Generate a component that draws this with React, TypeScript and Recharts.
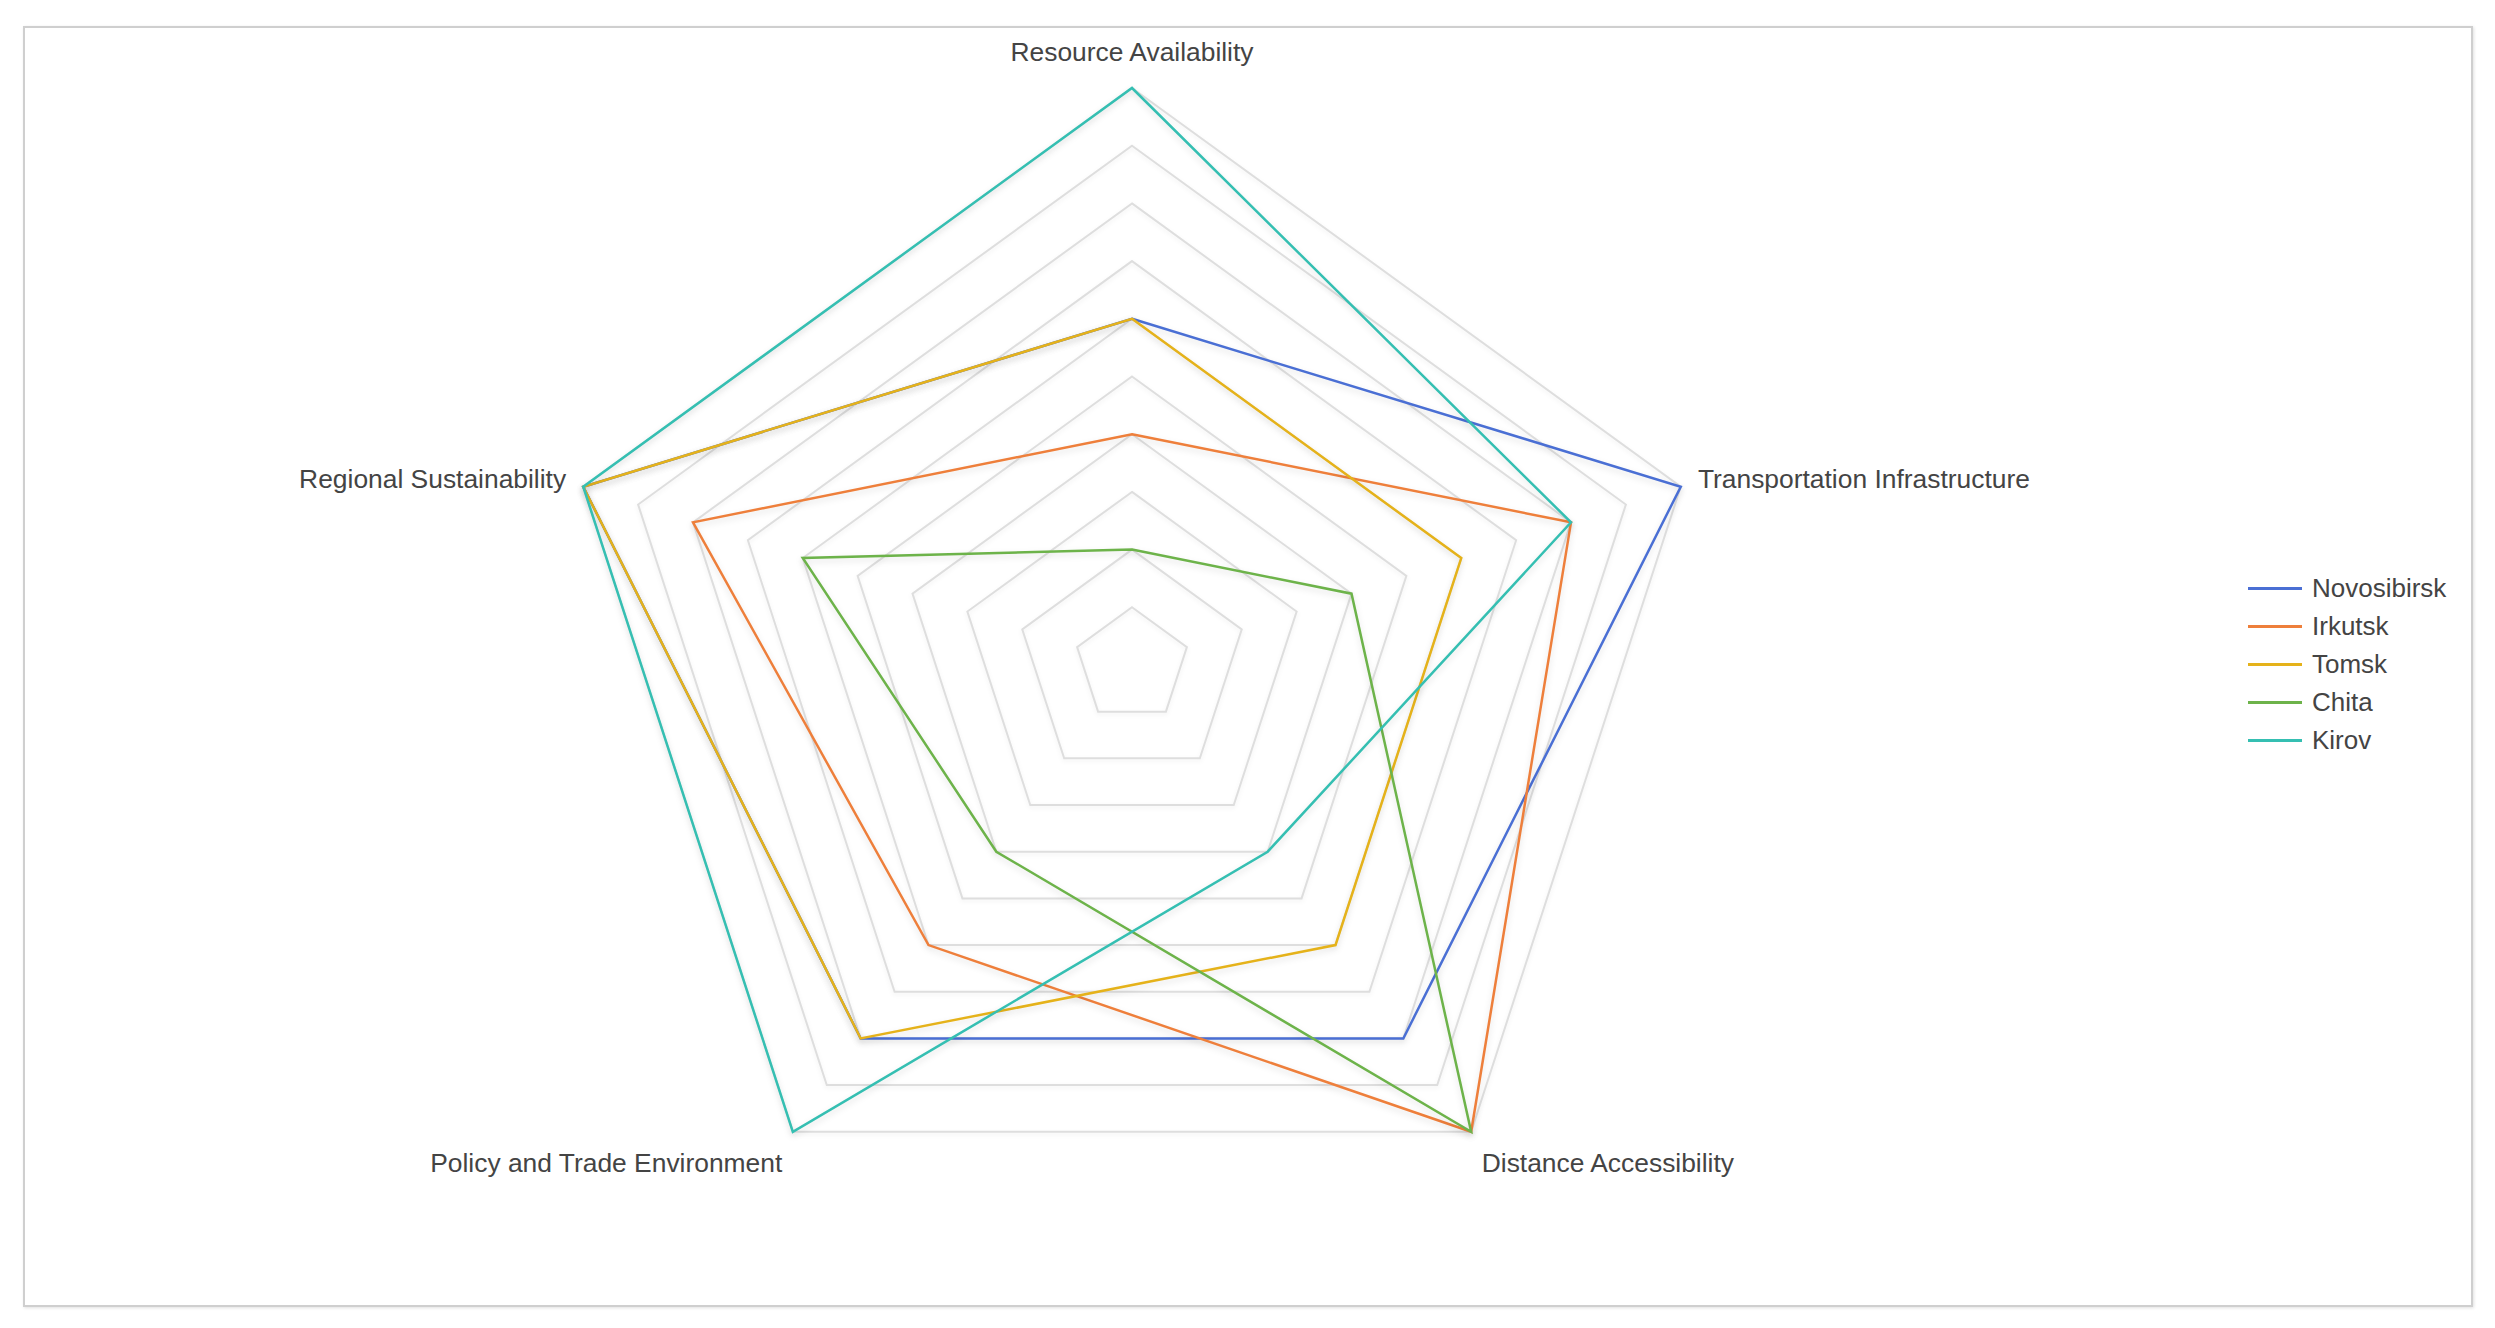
import { Legend, PolarAngleAxis, PolarGrid, PolarRadiusAxis, Radar, RadarChart } from "recharts";

const dimensions = [
    "Resource Availability",
    "Transportation Infrastructure",
    "Distance Accessibility",
    "Policy and Trade Environment",
    "Regional Sustainability",
];

const novosibirsk = [6, 10, 8, 8, 10];
const irkutsk = [4, 8, 10, 6, 8];
const tomsk = [6, 6, 6, 8, 10];
const chita = [2, 4, 10, 4, 6];
const kirov = [10, 8, 4, 10, 10];

const cities = [
    { key: "Novosibirsk", values: novosibirsk, color: "#4a6fd4" },
    { key: "Irkutsk", values: irkutsk, color: "#ee7f3b" },
    { key: "Tomsk", values: tomsk, color: "#e5b21a" },
    { key: "Chita", values: chita, color: "#6db34a" },
    { key: "Kirov", values: kirov, color: "#35bfb2" },
];

const chartData = dimensions.map((name, i) => {
    const row: Record<string, string | number> = { name };
    cities.forEach(c => { row[c.key] = c.values[i]; });
    return row;
});

const W = 2495;
const H = 1328;
const CX = 1132;
const CY = 665;
const R = 577;
const FONT = "'Liberation Sans', Arial, Helvetica, sans-serif";

function AxisTick (props: any) {
    const { payload } = props;
    const angle = (payload.coordinate * Math.PI) / 180;
    const cos = Math.cos(angle);
    const sin = Math.sin(angle);
    const x = CX + (R + 18) * cos;
    const y = CY - (R + 18) * sin;

    const anchor = cos > 0.1 ? "start" : cos < -0.1 ? "end" : "middle";
    const dy = sin > 0.9 ? -9 : sin < -0.5 ? 26 : 7;

    return (
        <text x={x} y={y + dy} textAnchor={anchor} fontSize={26.4} fill="#444" fontFamily={FONT}>
            {payload.value}
        </text>
    );
}

function CityLegend () {
    return (
        <div style={{ fontFamily: FONT, fontSize: 26, color: "#444" }}>
            {cities.map(c => (
                <div key={c.key} style={{ display: "flex", alignItems: "center", height: 38 }}>
                    <div style={{ width: 54, height: 3, background: c.color, marginRight: 10 }} />
                    <span>{c.key}</span>
                </div>
            ))}
        </div>
    );
}

export default function App () {
    return (
        <div style={{ position: "absolute", left: 0, top: 0, width: W, height: H, background: "#fff" }}>
            <style>{`
                .recharts-radar-polygon path { filter: drop-shadow(0px 3px 3px rgba(0,0,0,0.12)); }
                .recharts-polar-grid-concentric path { filter: drop-shadow(0px 2px 2px rgba(0,0,0,0.06)); }
            `}</style>
            <div
                style={{
                    position: "absolute",
                    left: 23, top: 26,
                    width: 2446, height: 1277,
                    border: "2px solid #cfcfcf",
                    boxShadow: "1px 1px 3px rgba(0,0,0,0.12)",
                }} />
            <div style={{ position: "absolute", left: 0, top: 0 }}>
                <RadarChart
                    width={W} height={H}
                    data={chartData}
                    cx={CX} cy={CY}
                    outerRadius={R}
                    margin={{ top: 0, right: 0, bottom: 0, left: 0 }}>
                    <PolarGrid gridType="polygon" radialLines={false} stroke="#dedede" strokeWidth={2} />
                    <PolarAngleAxis dataKey="name" tick={<AxisTick />} axisLine={false} tickLine={false} />
                    <PolarRadiusAxis domain={[0, 10]} tickCount={11} tick={false} axisLine={false} />
                    {cities.map(c => (
                        <Radar
                            key={c.key}
                            name={c.key}
                            dataKey={c.key}
                            stroke={c.color}
                            strokeWidth={2.5}
                            fill="none"
                            fillOpacity={0}
                            dot={false}
                            isAnimationActive={false} />
                    ))}
                    <Legend
                        layout="vertical"
                        content={() => <CityLegend />}
                        wrapperStyle={{ position: "absolute", left: 2248, top: 569, width: 240 }} />
                </RadarChart>
            </div>
        </div>
    );
}
